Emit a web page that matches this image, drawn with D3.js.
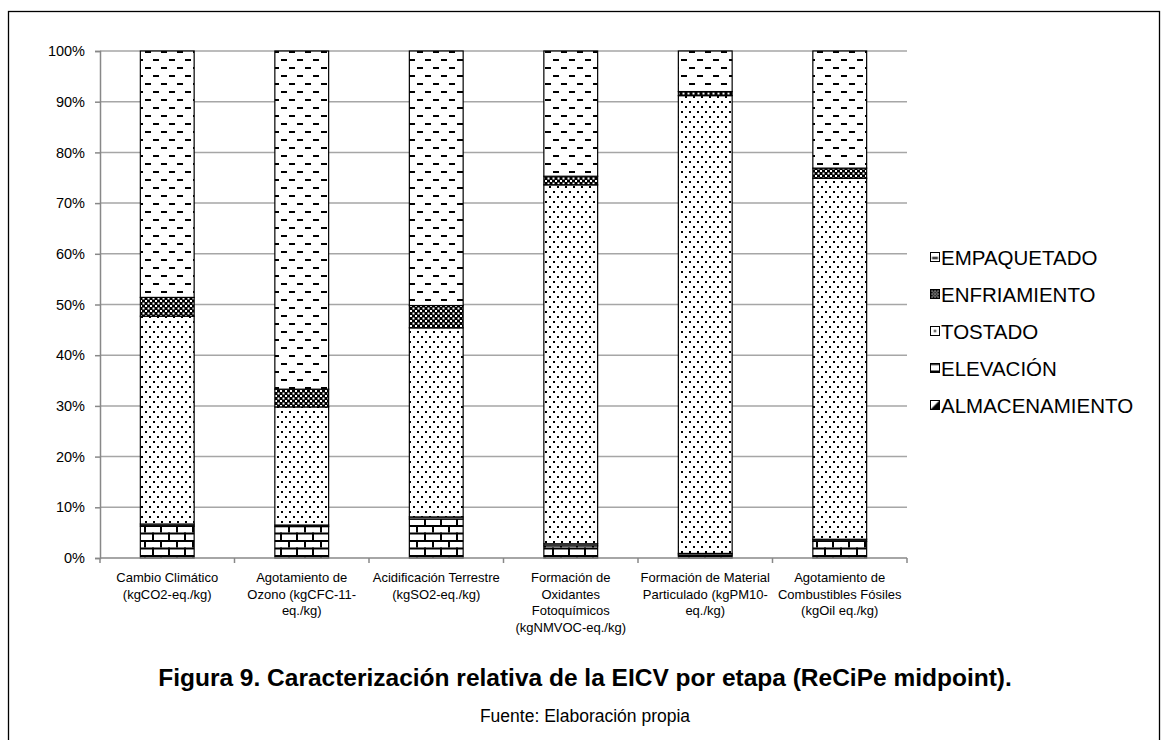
<!DOCTYPE html>
<html><head><meta charset="utf-8">
<script src="https://cdn.jsdelivr.net/npm/d3@7"></script>
<style>body{margin:0;background:#fff}text{font-family:"Liberation Sans",Arial,sans-serif}</style>
</head><body><svg id="c" width="1168" height="740"></svg>
<script>
const categories = [
  ["Cambio Climático","(kgCO2-eq./kg)"],
  ["Agotamiento de","Ozono (kgCFC-11-","eq./kg)"],
  ["Acidificación Terrestre","(kgSO2-eq./kg)"],
  ["Formación de","Oxidantes","Fotoquímicos","(kgNMVOC-eq./kg)"],
  ["Formación de Material","Particulado (kgPM10-","eq./kg)"],
  ["Agotamiento de","Combustibles Fósiles","(kgOil eq./kg)"]
];
const seriesNames = ["ALMACENAMIENTO","ELEVACIÓN","TOSTADO","ENFRIAMIENTO","EMPAQUETADO"];
const almacenamiento = [6.3, 6.2, 7.7, 2.4, 0.6, 3.3];
const elevacion      = [0.4, 0.3, 0.4, 0.4, 0.3, 0.4];
const tostado        = [41.0, 23.3, 37.3, 70.8, 90.3, 71.2];
const enfriamiento   = [3.7, 3.5, 4.4, 1.7, 0.8, 2.0];
const empaquetado    = [48.6, 66.7, 50.2, 24.7, 8.0, 23.1];
const yTicks = [0,10,20,30,40,50,60,70,80,90,100];
const title = "Figura 9. Caracterización relativa de la EICV por etapa (ReCiPe midpoint).";
const source = "Fuente: Elaboración propia";

const seriesValues = [almacenamiento, elevacion, tostado, enfriamiento, empaquetado];
const svg = d3.select("#c");
const defs = svg.append("defs");

function pat(id,w,h){return defs.append("pattern").attr("id",id).attr("patternUnits","userSpaceOnUse").attr("width",w).attr("height",h);}
function bpat(id){return defs.append("pattern").attr("id",id).attr("patternUnits","objectBoundingBox").attr("x",0).attr("y",0).attr("width",1).attr("height",1);}
let p = pat("pBrick",16,15);
p.append("rect").attr("width",16).attr("height",15).attr("fill","#fff");
p.append("rect").attr("x",0).attr("y",0).attr("width",16).attr("height",2).attr("fill","#000");
p.append("rect").attr("x",0).attr("y",7.5).attr("width",16).attr("height",2).attr("fill","#000");
p.append("rect").attr("x",0).attr("y",0).attr("width",2).attr("height",7.5).attr("fill","#000");
p.append("rect").attr("x",8).attr("y",7.5).attr("width",2).attr("height",7.5).attr("fill","#000");
p = pat("pElev",8,3);
p.append("rect").attr("width",8).attr("height",3).attr("fill","#fff");
p.append("rect").attr("width",8).attr("height",1.5).attr("fill","#222");
p = pat("pDots",8,10);
p.append("rect").attr("width",8).attr("height",10).attr("fill","#fff");
p.append("rect").attr("x",1).attr("y",1).attr("width",2).attr("height",2).attr("fill","#000");
p.append("rect").attr("x",5).attr("y",6).attr("width",2).attr("height",2).attr("fill","#000");
p = pat("pCheck",5,5);
p.append("rect").attr("width",5).attr("height",5).attr("fill","#000");
p.append("rect").attr("x",0).attr("y",0).attr("width",2).attr("height",2).attr("fill","#fff");
p.append("rect").attr("x",2.5).attr("y",2.5).attr("width",2).attr("height",2).attr("fill","#fff");
p = pat("pDash",16,16);
p.append("rect").attr("width",16).attr("height",16).attr("fill","#fff");
p.append("rect").attr("x",1).attr("y",3).attr("width",6).attr("height",2).attr("fill","#000");
p.append("rect").attr("x",9).attr("y",11).attr("width",6).attr("height",2).attr("fill","#000");
// legend swatch patterns (aligned to each swatch)
p = bpat("lDash");
p.append("rect").attr("width",9).attr("height",9).attr("fill","#fff");
p.append("rect").attr("x",1.5).attr("y",4.5).attr("width",6).attr("height",2).attr("fill","#000");
p = bpat("lCheck");
p.append("rect").attr("width",9).attr("height",9).attr("fill","#000");
[[1,1],[4,1],[7,1],[2.5,2.5],[5.5,2.5],[1,4],[4,4],[7,4],[2.5,5.5],[5.5,5.5],[1,7],[4,7],[7,7]].forEach(([a,b])=>
  p.append("rect").attr("x",a).attr("y",b).attr("width",1.2).attr("height",1.2).attr("fill","#fff"));
p = bpat("lDots");
p.append("rect").attr("width",9).attr("height",9).attr("fill","#fff");
p.append("rect").attr("x",3.5).attr("y",3.5).attr("width",2).attr("height",2).attr("fill","#000");
p = bpat("lElev");
p.append("rect").attr("width",9).attr("height",9).attr("fill","#fff");
p.append("rect").attr("x",0).attr("y",0).attr("width",9).attr("height",1.5).attr("fill","#000");
p.append("rect").attr("x",0).attr("y",7).attr("width",9).attr("height",2).attr("fill","#000");
p = bpat("lAlm");
p.append("rect").attr("width",9).attr("height",9).attr("fill","#fff");
p.append("path").attr("d","M0,9 L9,0 L9,9 Z").attr("fill","#000");
const fills = ["url(#pBrick)","url(#pElev)","url(#pDots)","url(#pCheck)","url(#pDash)"];
const legendFills = ["url(#lAlm)","url(#lElev)","url(#lDots)","url(#lCheck)","url(#lDash)"];

svg.append("rect").attr("x",8.5).attr("y",11.5).attr("width",1151).attr("height",760)
  .attr("fill","none").attr("stroke","#000").attr("stroke-width",1.3);

const x0 = 100, x1 = 907, yTop = 51, yBot = 558;
const x = d3.scaleBand().domain(d3.range(categories.length)).range([x0,x1]).paddingInner(0.6).paddingOuter(0.3);
const y = d3.scaleLinear().domain([0,100]).range([yBot,yTop]);

svg.append("g").selectAll("line").data(yTicks.filter(d=>d>0)).join("line")
  .attr("x1",x0).attr("x2",x1).attr("y1",d=>y(d)).attr("y2",d=>y(d))
  .attr("stroke","#a6a6a6").attr("stroke-width",1.5);

const ya = svg.append("g").attr("transform",`translate(${x0},0)`)
  .call(d3.axisLeft(y).tickValues(yTicks).tickFormat(d=>d+"%").tickSize(5).tickPadding(10));
ya.select(".domain").attr("stroke","#888").attr("stroke-width",1.5);
ya.selectAll(".tick line").attr("stroke","#888").attr("stroke-width",1.5);
ya.selectAll("text").attr("font-size",14.5).attr("fill","#000").style("font-family","Liberation Sans, Arial, sans-serif");

const table = categories.map((c,i)=>{const o={i}; seriesNames.forEach((s,k)=>o[s]=seriesValues[k][i]); return o;});
const stack = d3.stack().keys(seriesNames)(table);
const gBars = svg.append("g");
stack.forEach((layer,k)=>{
  gBars.append("g").selectAll("rect").data(layer).join("rect")
    .attr("x",(d,i)=>x(i)).attr("width",x.bandwidth())
    .attr("y",d=>y(d[1])).attr("height",d=>y(d[0])-y(d[1]))
    .attr("fill",fills[k]).attr("stroke","#000").attr("stroke-width",1.2);
});

svg.append("line").attr("x1",x0).attr("x2",x1).attr("y1",yBot).attr("y2",yBot).attr("stroke","#888").attr("stroke-width",1.5);
const bounds = d3.range(categories.length+1).map(i=>x0+i*x.step());
svg.append("g").selectAll("line").data(bounds).join("line")
  .attr("x1",d=>d).attr("x2",d=>d).attr("y1",yBot).attr("y2",yBot+5).attr("stroke","#888").attr("stroke-width",1.5);
const gl = svg.append("g");
categories.forEach((lines,i)=>{
  const t = gl.append("text").attr("text-anchor","middle").attr("font-size",13).attr("fill","#000");
  lines.forEach((ln,j)=>t.append("tspan").attr("x",x(i)+x.bandwidth()/2).attr("y",yBot+24+j*16.5).text(ln));
});

const lg = svg.append("g");
seriesNames.slice().reverse().forEach((s,j)=>{
  const k = seriesNames.length-1-j;
  const yy = 265 + j*37;
  lg.append("rect").attr("x",930.5).attr("y",yy-12.5).attr("width",9).attr("height",9)
    .attr("fill",legendFills[k]).attr("stroke","#000").attr("stroke-width",1);
  lg.append("text").attr("x",941).attr("y",yy).attr("font-size",20.5).attr("fill","#000").text(s);
});

svg.append("text").attr("x",585).attr("y",686).attr("text-anchor","middle").attr("font-size",24.5).attr("font-weight","bold").text(title);
svg.append("text").attr("x",585).attr("y",722).attr("text-anchor","middle").attr("font-size",17.5).text(source);
</script></body></html>
